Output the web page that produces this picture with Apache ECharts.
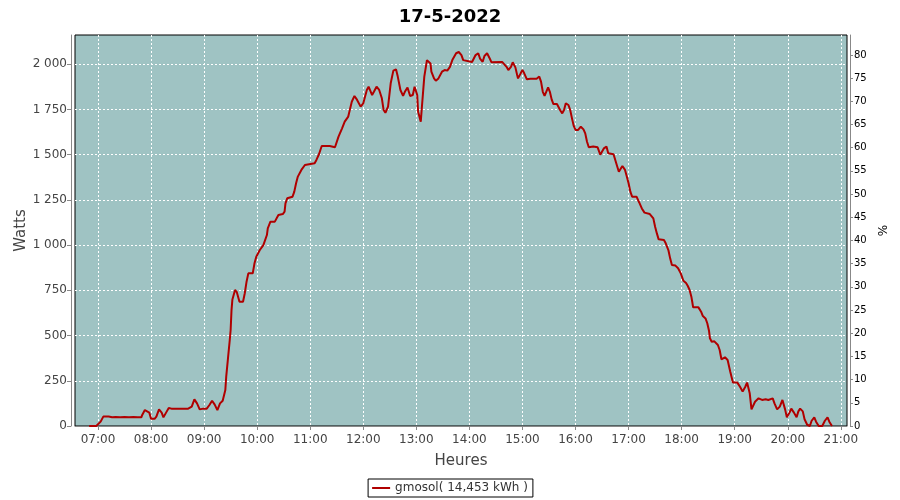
<!DOCTYPE html>
<html>
<head>
<meta charset="utf-8">
<script src="https://cdn.jsdelivr.net/npm/echarts@6/dist/echarts.min.js"></script>
<style>
html,body{margin:0;padding:0;background:#fff;}
#chart{width:900px;height:500px;}
</style>
</head>
<body>
<div id="chart"></div>
<script>
const chartTitle = '17-5-2022';
const seriesName = 'gmosol( 14,453 kWh )';
const hourLabels = ['07:00','08:00','09:00','10:00','11:00','12:00','13:00','14:00','15:00','16:00','17:00','18:00','19:00','20:00','21:00'];
const wattTicks = [0,250,500,750,1000,1250,1500,1750,2000];
const pctTicks = [0,5,10,15,20,25,30,35,40,45,50,55,60,65,70,75,80];
const xRange = ['06:34','21:07'];
const wattMax = 2162;
const pctMax = 84.3;

const times = [
'06:50','06:52','06:58','07:03','07:06','07:08','07:12','07:16','07:20','07:25','07:30','07:35','07:40','07:45','07:49',
'07:50','07:53','07:55','07:58','08:00','08:04','08:06','08:09','08:12','08:14','08:17','08:20','08:23','08:30','08:36',
'08:42','08:43','08:46','08:49','08:52','08:55','08:59','09:03','09:04','09:06','09:09','09:12','09:15','09:18','09:21',
'09:23','09:24','09:25','09:27','09:29','09:30','09:31','09:32','09:35','09:37','09:40','09:44','09:46','09:48','09:50',
'09:55','09:57','09:59','10:03','10:07','10:11','10:12','10:15','10:20','10:22','10:24','10:29','10:31','10:32','10:34',
'10:40','10:42','10:44','10:46','10:50','10:54','10:56','11:05','11:07','11:10','11:13','11:22','11:28','11:30','11:32',
'11:36','11:39','11:43','11:47','11:50','11:53','11:57','12:00','12:04','12:06','12:10','12:12','12:15','12:18','12:21',
'12:23','12:25','12:28','12:31','12:34','12:37','12:39','12:42','12:45','12:47','12:50','12:53','12:56','12:58','13:00',
'13:01','13:02','13:05','13:06','13:09','13:12','13:14','13:16','13:17','13:20','13:22','13:25','13:29','13:32','13:35',
'13:38','13:41','13:45','13:48','13:51','13:53','13:55','14:03','14:05','14:07','14:10','14:12','14:15','14:17','14:20',
'14:23','14:25','14:37','14:38','14:42','14:44','14:47','14:49','14:52','14:54','14:55','14:58','15:00','15:02','15:05',
'15:09','15:16','15:19','15:21','15:23','15:25','15:27','15:29','15:31','15:33','15:35','15:39','15:41','15:43','15:45',
'15:47','15:49','15:52','15:54','15:56','15:58','16:00','16:03','16:06','16:09','16:11','16:13','16:15','16:17','16:20',
'16:22','16:25','16:28','16:30','16:32','16:35','16:37','16:43','16:45','16:47','16:49','16:51','16:53','16:54','16:56',
'16:58','17:00','17:02','17:04','17:09','17:11','17:12','17:15','17:18','17:19','17:24','17:26','17:28','17:30','17:32',
'17:34','17:36','17:40','17:42','17:45','17:47','17:49','17:53','17:55','17:56','17:59','18:02','18:05','18:07','18:09',
'18:11','18:12','18:13','18:19','18:20','18:22','18:24','18:27','18:29','18:31','18:32','18:34','18:37','18:39','18:41',
'18:43','18:45','18:47','18:49','18:52','18:55','18:58','19:03','19:06','19:09','19:12','19:14','19:17','19:19','19:21',
'19:23','19:27','19:31','19:35','19:38','19:43','19:45','19:48','19:51','19:54','19:57','19:59','20:02','20:04','20:07',
'20:10','20:12','20:14','20:17','20:19','20:22','20:25','20:27','20:30','20:32','20:35','20:39','20:42','20:45','20:47',
'20:50'
];
const watts = [
0,5,0,24,52,48,52,48,50,48,50,48,50,48,48,
61,88,96,74,40,40,52,92,74,48,74,100,96,96,96,
96,88,107,147,125,92,96,96,88,116,140,118,88,125,140,
132,199,273,374,475,531,641,700,752,740,687,687,734,798,844,
844,900,936,973,1000,1056,1093,1130,1130,1139,1167,1172,1185,1231,1259,
1268,1296,1342,1379,1416,1443,1453,1453,1471,1504,1548,1548,1541,1541,1600,
1646,1683,1711,1793,1825,1803,1766,1784,1858,1876,1830,1848,1876,1858,1812,
1747,1732,1766,1895,1965,1972,1932,1858,1825,1848,1872,1825,1830,1876,1876,
1830,1738,1683,1747,1932,2023,2027,2005,1959,1922,1909,1922,1959,1968,1965,
1986,2027,2061,2068,2051,2023,2013,2013,2020,2051,2061,2032,2014,2046,2061,
2032,2011,2013,2020,1986,1968,1986,2011,1983,1941,1922,1950,1968,1950,1917,
1920,1920,1932,1904,1848,1825,1835,1872,1848,1806,1780,1780,1775,1743,1729,
1747,1784,1775,1747,1701,1659,1637,1637,1655,1640,1618,1572,1541,1535,1545,
1554,1541,1500,1507,1535,1545,1508,1503,1493,1438,1406,1415,1438,1449,1416,
1379,1342,1296,1268,1268,1264,1236,1203,1180,1172,1172,1161,1148,1102,1065,
1032,1028,1028,1010,973,927,890,887,895,872,844,803,791,774,752,
715,687,656,656,660,632,608,595,568,525,485,466,468,472,448,
420,369,376,380,365,300,240,240,217,190,217,240,181,92,88,
134,153,144,148,144,153,125,92,107,144,92,48,74,96,74,
48,81,96,81,37,7,0,29,48,24,0,0,29,48,24,
0
];

function toMin(s){ const p = s.split(':'); return (+p[0])*60 + (+p[1]); }
function fmtTime(v){ const h = Math.floor(v/60), m = Math.round(v - h*60); return String(h).padStart(2,'0') + ':' + String(m).padStart(2,'0'); }
function fmtWatt(v){ return String(v).replace(/\B(?=(\d{3})+(?!\d))/g, ' '); }

const hourTicks = hourLabels.map(toMin);
const seriesData = times.map((t,i) => [toMin(t), watts[i]]);

const chart = echarts.init(document.getElementById('chart'), null, {renderer:'canvas'});
const FONT = 'DejaVu Sans';
const grayAxis = '#888888';
chart.setOption({
  animation: false,
  backgroundColor: '#ffffff',
  textStyle: { fontFamily: FONT },
  title: {
    text: chartTitle, left: 'center', top: 3,
    textStyle: { fontFamily: FONT, fontSize: 18, fontWeight: 'bold', color: '#000' }
  },
  legend: {
    data: [seriesName], bottom: 3, left: 'center',
    borderColor: '#000', borderWidth: 1, borderRadius: 0,
    padding: [3, 5, 3, 4], icon: 'rect', itemWidth: 18, itemHeight: 2, itemGap: 4,
    textStyle: { fontFamily: FONT, fontSize: 12, color: '#333' }
  },
  grid: {
    left: 75, right: 53, top: 35, bottom: 74, containLabel: false, outerBoundsMode: 'none',
    show: true, backgroundColor: '#9FC3C3', borderColor: '#000', borderWidth: 1
  },
  xAxis: {
    type: 'value', min: toMin(xRange[0]), max: toMin(xRange[1]), offset: 4,
    name: 'Heures', nameLocation: 'middle', nameGap: 24,
    nameTextStyle: { fontFamily: FONT, fontSize: 15, color: '#444' },
    axisLine: { show: true, lineStyle: { color: grayAxis } },
    axisTick: { show: true, length: 4, lineStyle: { color: grayAxis }, customValues: hourTicks },
    axisLabel: { customValues: hourTicks, formatter: fmtTime, color: '#444', fontSize: 12, margin: 4 },
    splitLine: { show: true, lineStyle: { color: '#ffffff', type: [2, 2], width: 1 } }
  },
  yAxis: [
    {
      type: 'value', min: 0, max: wattMax, offset: 4, position: 'left',
      name: 'Watts', nameLocation: 'middle', nameGap: 42, nameMoveOverlap: false,
      nameTextStyle: { fontFamily: FONT, fontSize: 15, color: '#444' },
      axisLine: { show: true, lineStyle: { color: grayAxis } },
      axisTick: { show: true, length: 4, lineStyle: { color: grayAxis }, customValues: wattTicks },
      axisLabel: { customValues: wattTicks, formatter: fmtWatt, color: '#444', fontSize: 12, margin: 4 },
      splitLine: { show: true, lineStyle: { color: '#ffffff', type: [2, 2], width: 1 } }
    },
    {
      type: 'value', min: 0, max: pctMax, offset: 3, position: 'right',
      name: '%', nameLocation: 'middle', nameGap: 28, nameMoveOverlap: false,
      nameTextStyle: { fontFamily: FONT, fontSize: 12, color: '#000' },
      axisLine: { show: true, lineStyle: { color: grayAxis } },
      axisTick: { show: true, length: 3, lineStyle: { color: grayAxis }, customValues: pctTicks },
      axisLabel: { customValues: pctTicks, color: '#000', fontSize: 10, margin: 4 },
      splitLine: { show: false }
    }
  ],
  series: [{
    name: seriesName, type: 'line', yAxisIndex: 0,
    data: seriesData, showSymbol: false, symbol: 'none',
    lineStyle: { color: '#B00000', width: 2 }, itemStyle: { color: '#B00000' }
  }]
});
</script>
</body>
</html>
